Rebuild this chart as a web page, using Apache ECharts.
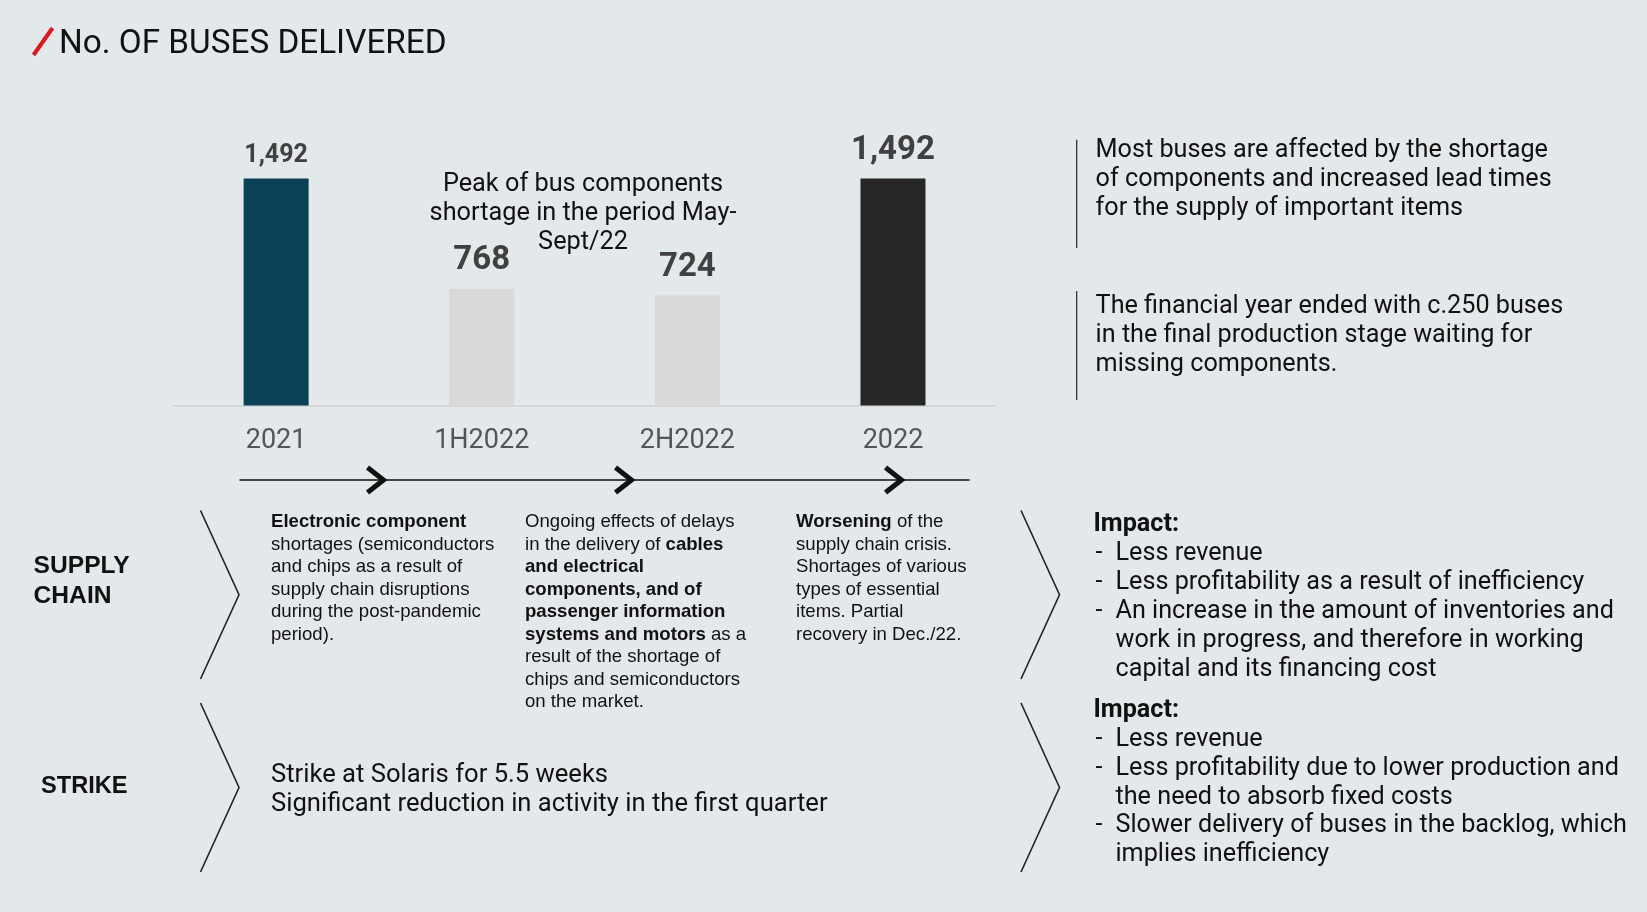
<!DOCTYPE html>
<html>
<head>
<meta charset="utf-8">
<script src="https://cdn.jsdelivr.net/npm/echarts@6/dist/echarts.min.js"></script>
<style>
html,body{margin:0;padding:0;background:#e3e8eb;}
#chart{width:1647px;height:912px;}
</style>
</head>
<body>
<div id="chart"></div>
<script>
// ---- data ----
const categories = ['2021', '1H2022', '2H2022', '2022'];
const delivered = [1492, 768, 724, 1492];
const titleText = 'No. OF BUSES DELIVERED';
const peakNote = ['Peak of bus components', 'shortage in the period May-', 'Sept/22'];
const rowLabels = [['SUPPLY', 'CHAIN'], ['STRIKE']];
const supplyCol1 = '{b|Electronic component}\nshortages (semiconductors\nand chips as a result of\nsupply chain disruptions\nduring the post-pandemic\nperiod).';
const supplyCol2 = 'Ongoing effects of delays\nin the delivery of {b|cables}\n{b|and electrical}\n{b|components, and of}\n{b|passenger information}\n{b|systems and motors} as a\nresult of the shortage of\nchips and semiconductors\non the market.';
const supplyCol3 = '{b|Worsening} of the\nsupply chain crisis.\nShortages of various\ntypes of essential\nitems. Partial\nrecovery in Dec./22.';
const strikeText = ['Strike at Solaris for 5.5 weeks', 'Significant reduction in activity in the first quarter'];
const noteTop = ['Most buses are affected by the shortage', 'of components and increased lead times', 'for the supply of important items'];
const noteBottom = ['The financial year ended with c.250 buses', 'in the final production stage waiting for', 'missing components.'];
const impactSupply = [['Less revenue'], ['Less profitability as a result of inefficiency'], ['An increase in the amount of inventories and', 'work in progress, and therefore in working', 'capital and its financing cost']];
const impactStrike = [['Less revenue'], ['Less profitability due to lower production and', 'the need to absorb fixed costs'], ['Slower delivery of buses in the backlog, which', 'implies inefficiency']];

// ---- styles ----
const BAR_COLORS = ['#0b4157', '#d9d9d9', '#d9d9d9', '#262626'];
const LABEL_SIZES = [25, 33, 33, 33];
const LABEL_DIST = [10, 11, 11, 11];
const FONT = 'Roboto, "Open Sans", sans-serif';
const ARIAL = '"Liberation Sans", Arial, sans-serif';

const chart = echarts.init(document.getElementById('chart'));
const g = [];

// title
g.push({type:'polyline', shape:{points:[[33.5,55],[52.5,28]]}, style:{stroke:'#e3141b', lineWidth:4, fill:null}});
g.push({type:'text', x:59, y:44.5, style:{text:titleText, font:'33.3px ' + FONT, fill:'#111', textVerticalAlign:'middle'}});

// peak note
g.push({type:'text', x:583, y:184.5 - 14.5, style:{text:peakNote.join('\n'), font:'25.3px ' + FONT, fill:'#111', textAlign:'center', textVerticalAlign:'top', lineHeight:28.9}});

// timeline arrow
g.push({type:'line', shape:{x1:239.5, y1:480, x2:969.5, y2:480}, style:{stroke:'#111', lineWidth:1.5}});
[383.5, 631.5, 901.5].forEach(function(tx){
  g.push({type:'polyline', shape:{points:[[tx-16,467.5],[tx,480],[tx-16,492.5]]}, style:{stroke:'#111', lineWidth:5, fill:null, lineJoin:'miter'}});
});

// row labels
g.push({type:'text', x:33.6, y:566.5 - 14.5, style:{text:rowLabels[0].join('\n'), font:'bold 24.6px ' + ARIAL, fill:'#111', textVerticalAlign:'top', lineHeight:29.3}});
g.push({type:'text', x:41, y:786, style:{text:rowLabels[1][0], font:'bold 23.6px ' + ARIAL, fill:'#111', textVerticalAlign:'middle'}});

// bracket chevrons
function chev(x, top, bot){
  const mid = (top + bot) / 2;
  g.push({type:'polyline', shape:{points:[[x,top],[x+38.5,mid],[x,bot]]}, style:{stroke:'#222', lineWidth:1.6, fill:null}});
}
chev(200.5, 510.5, 679); chev(200.5, 703, 872);
chev(1021, 510.5, 679); chev(1021, 703, 872);

// supply chain columns
function col(x, txt){
  g.push({type:'text', x:x, y:522 - 11.25, style:{text:txt, font:'18.6px ' + ARIAL, fill:'#111', textVerticalAlign:'top', lineHeight:22.5,
    rich:{b:{fontFamily:ARIAL, fontWeight:'bold', fontSize:18.6, lineHeight:22.5, fill:'#111'}}}});
}
col(271, supplyCol1); col(525, supplyCol2); col(796, supplyCol3);

// strike text
g.push({type:'text', x:271, y:776 - 14.5, style:{text:strikeText.join('\n'), font:'25.6px ' + FONT, fill:'#111', textVerticalAlign:'top', lineHeight:28.9}});

// top-right notes
g.push({type:'line', shape:{x1:1076.7, y1:139.7, x2:1076.7, y2:248}, style:{stroke:'#333', lineWidth:1.3}});
g.push({type:'line', shape:{x1:1076.7, y1:291, x2:1076.7, y2:400}, style:{stroke:'#333', lineWidth:1.3}});
g.push({type:'text', x:1095.6, y:151 - 14.5, style:{text:noteTop.join('\n'), font:'25.2px ' + FONT, fill:'#111', textVerticalAlign:'top', lineHeight:28.9}});
g.push({type:'text', x:1095.6, y:306.5 - 14.5, style:{text:noteBottom.join('\n'), font:'25.2px ' + FONT, fill:'#111', textVerticalAlign:'top', lineHeight:28.9}});

// impact blocks
function impact(y0, items){
  const LH = 28.9;
  g.push({type:'text', x:1093.5, y:y0, style:{text:'Impact:', font:'bold 25.2px ' + FONT, fill:'#111', textVerticalAlign:'middle'}});
  let y = y0 + LH;
  items.forEach(function(lines){
    g.push({type:'text', x:1095.6, y:y, style:{text:'-', font:'25.2px ' + FONT, fill:'#111', textVerticalAlign:'middle'}});
    lines.forEach(function(l){
      g.push({type:'text', x:1115.5, y:y, style:{text:l, font:'25.2px ' + FONT, fill:'#111', textVerticalAlign:'middle'}});
      y += LH;
    });
  });
}
impact(525, impactSupply);
impact(710.5, impactStrike);

const option = {
  backgroundColor:'#e3e8eb',
  animation:false,
  grid:{left:173.3, width:822.5, top:178.6, height:226.9},
  xAxis:{type:'category', data:categories,
    axisLine:{lineStyle:{color:'#d5d8da', width:2}}, axisTick:{show:false},
    axisLabel:{fontFamily:FONT, fontSize:27, color:'#555', margin:22.5}},
  yAxis:{type:'value', min:0, max:1492, show:false, splitLine:{show:false}},
  series:[{type:'bar', barWidth:65,
    data:delivered.map(function(v,i){
      return {value:v, itemStyle:{color:BAR_COLORS[i]},
        label:{show:true, position:'top', distance:LABEL_DIST[i], fontFamily:FONT, fontWeight:'bold', fontSize:LABEL_SIZES[i], color:'#404040',
          formatter:function(p){return p.value.toLocaleString('en-US');}}};
    })
  }],
  graphic:g
};
chart.setOption(option);
</script>
</body>
</html>
